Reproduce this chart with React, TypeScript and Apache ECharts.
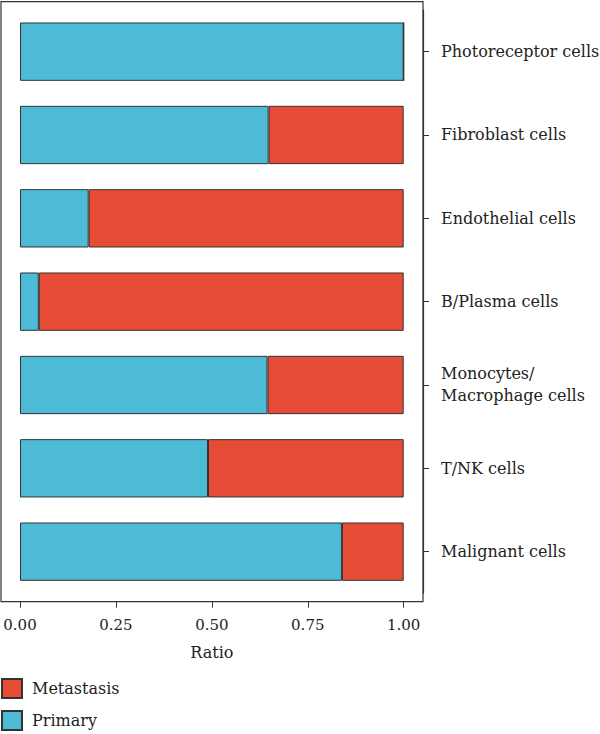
import React, { useEffect, useRef } from "react";
import * as echarts from "echarts";

const categories = [
  "Photoreceptor cells",
  "Fibroblast cells",
  "Endothelial cells",
  "B/Plasma cells",
  "Monocytes/\nMacrophage cells",
  "T/NK cells",
  "Malignant cells",
];
const primary = [1.0, 0.648, 0.179, 0.049, 0.645, 0.49, 0.839];
const metastasis = [0, 0.352, 0.821, 0.951, 0.355, 0.51, 0.161];
const xTicks = [0, 0.25, 0.5, 0.75, 1.0];

const FONT = "DejaVu Serif";
const TXT = "#222";
const BLUE = "#4DBBD5";
const RED = "#E64B35";
const EDGE = "#333";

export default function App() {
  const ref = useRef<HTMLDivElement>(null);
  useEffect(() => {
    if (!ref.current) return;
    const chart = echarts.init(ref.current, undefined, { renderer: "svg" });
    chart.setOption({
      animation: false,
      grid: {
        left: 20,
        right: 196.3,
        top: 10,
        bottom: 140.7,
        containLabel: false,
        outerBoundsMode: "none",
      },
      xAxis: {
        type: "value",
        min: 0,
        max: 1,
        interval: 0.25,
        offset: 8.4,
        axisLine: { show: true, onZero: false, lineStyle: { color: EDGE, width: 1.2 } },
        axisTick: { show: true, length: 6, lineStyle: { color: EDGE, width: 1 } },
        splitLine: { show: false },
        axisLabel: {
          margin: 16,
          fontFamily: FONT,
          fontSize: 15,
          color: TXT,
          formatter: (v: number) => (xTicks.includes(v) ? v.toFixed(2) : ""),
        },
        name: "Ratio",
        nameLocation: "middle",
        nameGap: 43,
        nameTextStyle: { fontFamily: FONT, fontSize: 16, color: TXT },
      },
      yAxis: {
        type: "category",
        data: categories,
        inverse: true,
        position: "right",
        offset: 19.3,
        axisLine: { show: true, onZero: false, lineStyle: { color: EDGE, width: 1.2 } },
        axisTick: { show: true, length: 6, alignWithLabel: true, lineStyle: { color: EDGE, width: 1 } },
        axisLabel: {
          show: true,
          margin: 18,
          fontFamily: FONT,
          fontSize: 16,
          color: TXT,
          lineHeight: 22,
          align: "left",
        },
      },
      legend: {
        orient: "vertical",
        left: 1,
        top: 678,
        padding: 0,
        itemWidth: 20,
        itemHeight: 19,
        itemGap: 11,
        icon: "rect",
        data: ["Metastasis", "Primary"],
        textStyle: { fontFamily: FONT, fontSize: 16, color: TXT, padding: [0, 0, 0, 5] },
      },
      graphic: [
        {
          type: "rect",
          shape: { x: 1, y: 1.6, width: 422, height: 600 },
          style: { fill: "none", stroke: EDGE, lineWidth: 1.2 },
          silent: true,
        },
      ],
      series: [
        {
          name: "Primary",
          type: "bar",
          stack: "total",
          barWidth: "70%",
          data: primary,
          itemStyle: { color: BLUE, borderColor: EDGE, borderWidth: 1 },
        },
        {
          name: "Metastasis",
          type: "bar",
          stack: "total",
          barWidth: "70%",
          data: metastasis,
          itemStyle: { color: RED, borderColor: EDGE, borderWidth: 1 },
        },
      ],
    });
    return () => chart.dispose();
  }, []);
  return (
    <div
      ref={ref}
      style={{ position: "fixed", left: 0, top: 0, width: 600, height: 734, background: "#fff" }}
    />
  );
}
